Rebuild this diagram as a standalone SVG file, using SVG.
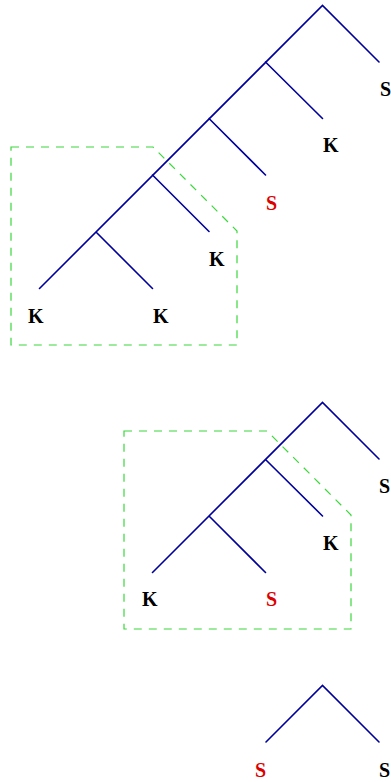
<svg xmlns="http://www.w3.org/2000/svg" width="391" height="782" viewBox="0 0 391 782">
<style>
.e{stroke:#00009c;stroke-width:1.6;fill:none;stroke-linecap:round}
.box{stroke:#3ad83a;stroke-width:1.2;fill:none;stroke-dasharray:8,7}
text{font-family:"Liberation Serif","Times New Roman",serif;font-weight:bold;font-size:20px;fill:#000}
.r{fill:#dd0000}
</style>
<rect width="391" height="782" fill="#fff"/>
<g id="connectors">
<path class="e" d="M39.5,288.5 L322.5,5.5 L379,62 M265.5,62 L322.5,118.5 M209,118.5 L265.5,175 M152.5,175 L209,231.5 M96,232 L152.5,288.5"/>
<path class="e" d="M152.5,572.5 L322.5,402.5 L379,459 M265.5,459.5 L322.5,516 M209,516 L265.5,572.5"/>
<path class="e" d="M266,742 L322.5,685.5 L379,742"/>
</g>
<g id="box1"><path class="box" d="M11,147 H153 L237,231 V345 H11 Z"/></g>
<g id="box2"><path class="box" d="M124,431 H267 L351,515 V629 H124 Z"/></g>
<g id="tree1-labels">
<text x="380" y="96">S</text>
<text x="323" y="152">K</text>
<text class="r" x="266" y="210">S</text>
<text x="209" y="266">K</text>
<text x="28" y="323">K</text>
<text x="153" y="323">K</text>
</g>
<g id="tree2-labels">
<text x="379" y="493">S</text>
<text x="323" y="550">K</text>
<text x="142" y="606">K</text>
<text class="r" x="266" y="606">S</text>
</g>
<g id="tree3-labels">
<text class="r" x="255" y="777">S</text>
<text x="379" y="777">S</text>
</g>
</svg>
